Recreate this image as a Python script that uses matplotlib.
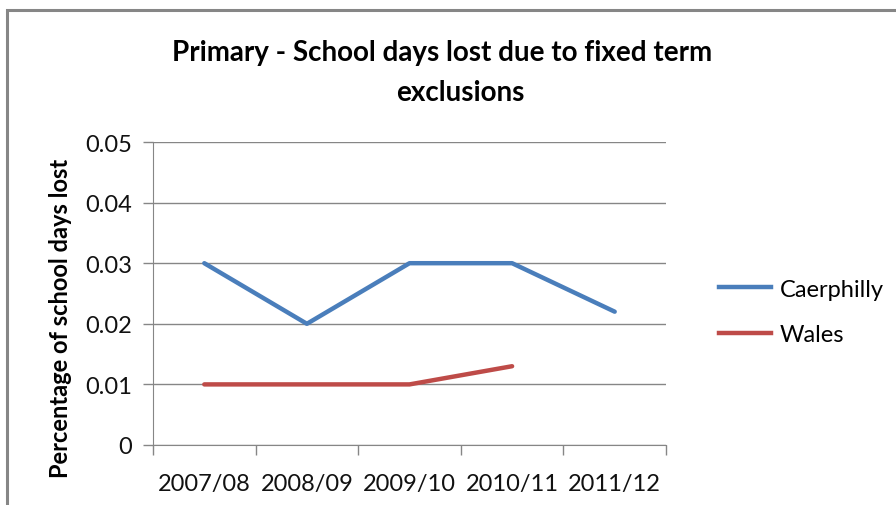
import matplotlib
matplotlib.use("Agg")
import matplotlib.pyplot as plt
from matplotlib.patches import Rectangle
from matplotlib.lines import Line2D

categories = ["2007/08", "2008/09", "2009/10", "2010/11", "2011/12"]
caerphilly = [0.03, 0.02, 0.03, 0.03, 0.022]
wales = [0.01, 0.01, 0.01, 0.013, None]
yticks = [0, 0.01, 0.02, 0.03, 0.04, 0.05]
ytick_labels = ["0", "0.01", "0.02", "0.03", "0.04", "0.05"]

FONT = ["Lato", "DejaVu Sans"]
plt.rcParams["font.family"] = FONT

fig = plt.figure(figsize=(8.96, 5.06), dpi=100)
fig.patch.set_facecolor("white")

# chart border
fig.patches.append(Rectangle((7 / 896, -0.1), 1.2, 1 - 10.5 / 506 + 0.1,
                             transform=fig.transFigure, fill=False,
                             edgecolor="#868686", linewidth=2.2))

ax = fig.add_axes([153 / 896, 1 - 446 / 506, (666 - 153) / 896, (446 - 143) / 506])
x = list(range(len(categories)))

ax.plot(x, caerphilly, color="#4A7EBB", linewidth=3.2, solid_capstyle="round",
        solid_joinstyle="round", label="Caerphilly")
wx = [i for i, v in zip(x, wales) if v is not None]
wy = [v for v in wales if v is not None]
ax.plot(wx, wy, color="#BE4B48", linewidth=3.2, solid_capstyle="round",
        solid_joinstyle="round", label="Wales")

ax.set_xlim(-0.5, len(categories) - 0.5)
ax.set_ylim(0, 0.05)
ax.set_yticks(yticks)
ax.set_yticklabels(ytick_labels)
ax.set_xticks(x)
ax.set_xticklabels(categories)
ax.set_xticks([i - 0.5 for i in range(len(categories) + 1)], minor=True)
ax.tick_params(axis="x", which="major", length=0, pad=20, labelsize=17)
ax.tick_params(axis="x", which="minor", length=7, color="#868686", width=1)
ax.tick_params(axis="y", length=7, color="#868686", width=1, pad=8, labelsize=17)
for lab in ax.get_yticklabels() + ax.get_xticklabels():
    lab.set_color("#111111")

ax.grid(axis="y", color="#868686", linewidth=1)
ax.set_axisbelow(True)
for s in ["top", "right"]:
    ax.spines[s].set_visible(False)
ax.spines["left"].set_color("#868686")
ax.spines["bottom"].set_color("#868686")

ax.set_ylabel("Percentage of school days lost", fontsize=17, fontweight="bold")
ax.yaxis.set_label_coords(-(153 - 60) / 513, (446 - 318) / 303)
ax.yaxis.label.set_va("center")

fig.text(442 / 896, 1 - 53 / 506, "Primary - School days lost due to fixed term",
         ha="center", va="center", fontsize=20, fontweight="bold")
fig.text(460 / 896, 1 - 93 / 506, "exclusions",
         ha="center", va="center", fontsize=20, fontweight="bold")

handles = [Line2D([0], [0], color="#4A7EBB", lw=3.2),
           Line2D([0], [0], color="#BE4B48", lw=3.2)]
fig.legend(handles, ["Caerphilly", "Wales"], loc="center left",
           bbox_to_anchor=(698 / 896, 1 - 313 / 506), frameon=False,
           fontsize=17, handlelength=2.2, handletextpad=0.35, labelspacing=1.05)

fig.savefig("out.png", dpi=100)
